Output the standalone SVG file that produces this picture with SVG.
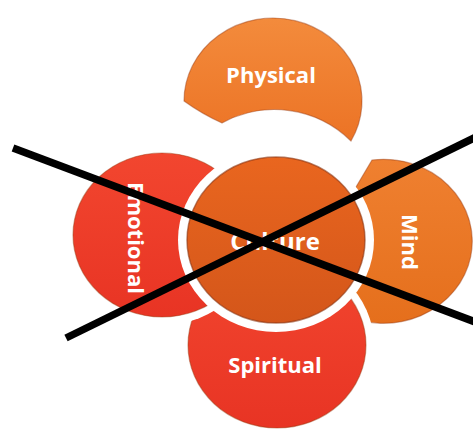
<svg xmlns="http://www.w3.org/2000/svg" width="473" height="429" viewBox="0 0 473 429">
  <defs>
    <linearGradient id="gPhys" x1="0" y1="0" x2="0" y2="1">
      <stop offset="0" stop-color="#F38B3C"/>
      <stop offset="1" stop-color="#EC7325"/>
    </linearGradient>
    <linearGradient id="gMind" x1="0" y1="0" x2="0" y2="1">
      <stop offset="0" stop-color="#EF8030"/>
      <stop offset="1" stop-color="#E56F1C"/>
    </linearGradient>
    <linearGradient id="gRed" x1="0" y1="0" x2="0" y2="1">
      <stop offset="0" stop-color="#F2462F"/>
      <stop offset="1" stop-color="#E83424"/>
    </linearGradient>
    <linearGradient id="gCult" x1="0" y1="0" x2="0" y2="1">
      <stop offset="0" stop-color="#E9661F"/>
      <stop offset="1" stop-color="#D4561A"/>
    </linearGradient>
    <style>
      .rim { stroke: #9a3a10; stroke-opacity: 0.45; stroke-width: 1.2; }
      .gap { fill: #ffffff; }
      .lbl { fill: #ffffff; font-family: "Open Sans", "Noto Sans", "Liberation Sans", sans-serif; font-weight: 700; font-size: 22px; text-anchor: middle; }
      .cross { stroke: #000000; stroke-width: 7.5; stroke-linecap: butt; fill: none; }
    </style>
  </defs>
  <rect width="473" height="429" fill="#ffffff"/>

  <g id="node-physical">
    <path class="rim" fill="url(#gPhys)" d="M 184 101 A 89 83 0 1 1 351 141 A 109 109 0 0 0 222 123 Q 202 114 184 101 Z"/>
    <text class="lbl" x="271" y="83">Physical</text>
  </g>

  <g id="node-mind">
    <path class="rim" fill="url(#gMind)" d="M 372 160 A 89 82 0 1 1 340 313 L 320 250 L 353 192 Z"/>
    <text class="lbl" transform="translate(402,242) rotate(90)" x="0" y="0">Mind</text>
  </g>

  <g id="node-spiritual">
    <ellipse class="gap" cx="277" cy="345" rx="97" ry="91"/>
    <ellipse class="rim" fill="url(#gRed)" cx="277" cy="345" rx="89" ry="83"/>
    <text class="lbl" x="275" y="373">Spiritual</text>
  </g>

  <g id="node-emotional">
    <ellipse class="gap" cx="162" cy="235" rx="97" ry="90"/>
    <ellipse class="rim" fill="url(#gRed)" cx="162" cy="235" rx="89" ry="82"/>
    <text class="lbl" transform="translate(128,238) rotate(90)" x="0" y="0">Emotional</text>
  </g>

  <g id="node-culture">
    <ellipse class="gap" cx="276" cy="240" rx="98" ry="92"/>
    <ellipse fill="url(#gCult)" stroke="#8a3410" stroke-opacity="0.6" stroke-width="1.5" cx="276" cy="240" rx="89" ry="83"/>
    <text class="lbl" x="275" y="250" style="font-size:24px">Culture</text>
  </g>

  <g id="connectors">
    <line class="cross" x1="13" y1="148" x2="478" y2="323"/>
    <line class="cross" x1="66" y1="338" x2="478" y2="136"/>
  </g>
</svg>
